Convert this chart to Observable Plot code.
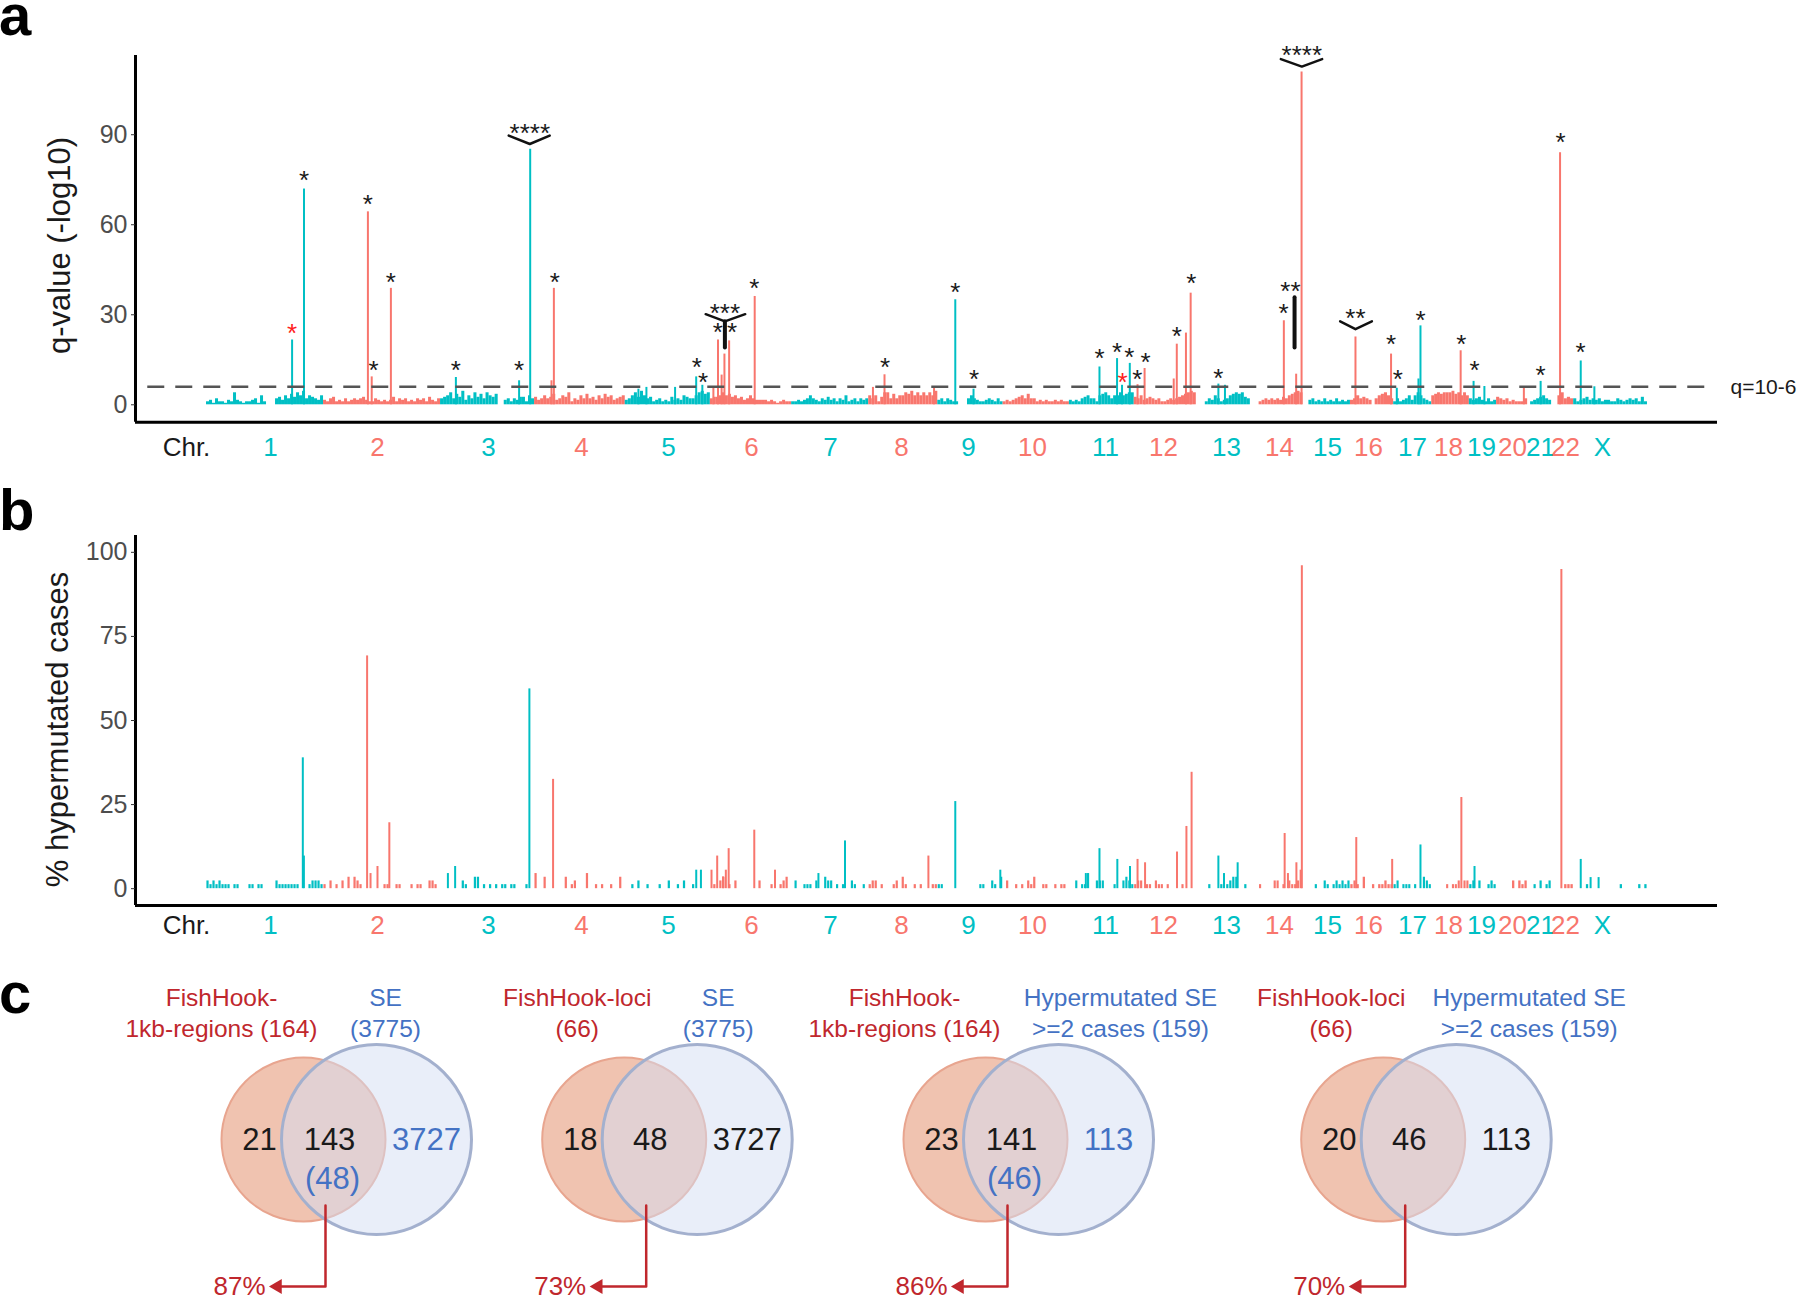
<!DOCTYPE html>
<html><head><meta charset="utf-8">
<script src="https://cdn.jsdelivr.net/npm/d3@7"></script>
<script src="https://cdn.jsdelivr.net/npm/@observablehq/plot@0.6"></script>
<style>
body{margin:0;background:#fff;}
#fig{position:relative;width:1800px;height:1303px;overflow:hidden;background:#fff;font-family:"Liberation Sans",Arial,Helvetica,sans-serif;}
#fig > svg{position:absolute;left:0;}
</style></head>
<body><div id="fig"></div>
<script>
// ---------------- DATA ----------------
const chrNames = ["1","2","3","4","5","6","7","8","9","10","11","12","13","14","15","16","17","18","19","20","21","22","X"];
// chromosome boundaries on the cumulative genome axis (Mb)
const chrStart = [0,249,498,698,891,1072,1245,1409,1556,1695,1836,1974,2106,2221,2333,2434,2526,2607,2687,2745,2811,2862,2909];
const chrEnd   = [249,498,698,891,1072,1245,1409,1556,1695,1836,1974,2106,2221,2333,2434,2526,2607,2687,2745,2811,2862,2909,3066];
// chromosome tick-label positions (Mb)
const chrLabelPos = [136.2,363.8,600,797.9,983,1159.6,1327.7,1478.7,1621.3,1757.4,1912.8,2036.2,2170.2,2283,2385,2472.3,2565.9,2642.6,2712.8,2778.7,2838.3,2891.5,2970.2];

// panel a: background q-values per chromosome, one character per bin, digit = half -log10 units (' ' = no bin)
const qBackground = [
  "23142213283212234162   4536475869465436",
  "324523242343453224323235243423243425324",
  "4568475936485748657  3424355264",
  "534645734658243647453647563456",
  "3468596452342325343654468978",
  "455686756453464333323212322",
  "22323464324353424362342434",
  "64625884746687968686869",
  "3424322   464322343242",
  "2323456474423232232322",
  "3232456442678646686788",
  "546345434223434567898",
  "   243642346787854",
  "   234343435467898",
  "  34232423242323",
  "3464543 467864",
  "2423463686432",
  "6787888978686",
  "434532423",
  "5434232224",
  " 2345643",
  "  68454",
  "423453434233224323434252"
];
// panel a: individual regions [position Mb, q-value (-log10)]
const qPeaks = [
  [182.1,21.6],[207.4,71.9],
  [343.4,64.3],[351.5,9.3],[392.3,38.8],
  [530.6,9.1],[665.1,8.0],[688.7,85.2],
  [734,8.0],[739.1,38.8],
  [919,5.2],[936,5.8],[997,5.8],[1041.9,9.3],[1055,6.5],
  [1078.5,5.8],[1088.3,21.6],[1096,9.9],[1102,16.9],[1112,21.3],[1166.4,36.1],
  [1418,5.8],[1442.6,10.0],[1548,5.8],
  [1593.2,35.0],[1632,5.2],
  [1900,12.6],[1937.4,15.4],[1948,6.5],[1964.5,13.8],
  [1981,6.7],[1996,12.1],[2058,8.6],[2064.5,20.2],[2084,23.9],[2094,37.2],
  [2153,6.9],[2167,6.5],
  [2292.3,28.0],[2318.5,10.2],[2330,110.9],
  [2444.7,22.6],[2520.4,16.9],
  [2532.6,5.5],[2578.7,8.6],[2583,26.3],
  [2668.5,18.0],
  [2696,7.8],[2719,6.1],
  [2803,6.0],
  [2838.7,7.8],
  [2880,84.0],
  [2924,14.6],[2953,6.0]
];
const qThreshold = 6; // q = 10^-6
// significance marks [position Mb, q-value, text, red?]
const qStars = [
  [182.1,25.8,"*",1],[207.4,76.8,"*",0],
  [343.4,69,"*",0],[355.5,13.5,"*",0],[392.3,43,"*",0],
  [530.6,13.5,"*",0],[665.1,13.5,"*",0],[687.8,92.6,"****",0],
  [740.9,43,"*",0],
  [1043.4,14.6,"*",0],[1056.6,9.7,"*",0],
  [1103,32.6,"***",0],[1088,26.3,"*",0],[1118,26.3,"*",0],[1165.5,40.7,"*",0],
  [1444,14.6,"*",0],
  [1593.2,39.6,"*",0],[1633,10.4,"*",0],
  [1900,17.4,"*",0],[1937.4,19.6,"*",0],[1963.6,18,"*",0],[1949,9.7,"*",1],
  [1980.6,10.4,"*",0],[1998,16.3,"*",0],[2064.5,24.9,"*",0],[2095.5,42.4,"*",0],
  [2153,10.8,"*",0],
  [2330.6,118.5,"****",0],[2306.4,40,"**",0],[2291.5,32.6,"*",0],
  [2444.7,30.7,"**",0],[2520.4,22.2,"*",0],
  [2535,10.4,"*",0],[2583,30.2,"*",0],
  [2670,22.2,"*",0],
  [2698,13.5,"*",0],
  [2838.7,11.9,"*",0],
  [2880.9,89.6,"*",0],
  [2923.4,19.6,"*",0]
];
// grouping brackets and stems [id, [[position, q], ...]]
const qBrackets = [
  ["chr3",  [[643,89.7],[687.9,86.9],[730.2,89.7]]],
  ["chr6",  [[1062.1,30.2],[1103,27.8],[1146.2,30.2]]],
  ["chr14", [[2285.9,115.2],[2330.6,112.7],[2373.8,115.2]]],
  ["chr16", [[2412.1,27.8],[2444.7,25.2],[2479.6,27.8]]]
];
const qStems = [
  ["chr6",  [[1103,27.8],[1103,19.1]]],
  ["chr14", [[2315.1,35.8],[2315.1,19.1]]]
];

// panel b: background, one character per bin = number of hypermutated cases (level index)
const caseLevels = [0,1.2,2.3,3.4,4.5]; // % of cases for 0..4 cases
const hyperBackground = [
  "21212111 11   11 11    21111111   12221",
  "1 2 1 2 3 321       11  11   1 11  221 ",
  "       21  33 1 1 1 11 11   1  ",
  "4  3      3 12   4  1 1  1  3 ",
  "  1 2  1   1  2  1 2  1     ",
  " 1 23 1 2       2   1  123 ",
  " 2  111 2  322 1 1  21  1 ",
  "122 1   12 31  1 1   11",
  "11            11  21 3",
  " 2  1 1 213  11  1 11 ",
  "  2 114  222   1  2321",
  "122 11 211 1    1    ",
  "    1   1 1233  1 ",
  "   1    22 1 2112 ",
  "    1  21 121212",
  "121 3  1 11211",
  "12 111 1  321",
  "     1 112 22",
  "12 2  121",
  "     2 212",
  "  1 2 12",
  "    111",
  "    1          1     1 1"
];
// panel b: individual regions [position Mb, % hypermutated cases]
const hyperPeaks = [
  [204.9,38.9],[207.2,9.7],
  [341.7,69.2],[349,4.5],[363.8,6.6],[389,19.6],
  [513.6,4.5],[529,6.6],[687,59.4],
  [737.4,32.5],
  [1042,5.5],[1052,5.5],
  [1074.5,5.5],[1086.6,9.7],[1099,3.5],[1105,5.5],[1111,11.9],[1165.5,17.4],[1209.6,5.5],
  [1302,4.5],[1358.5,14.2],
  [1536,9.7],
  [1593.2,25.9],
  [1689,5.5],
  [1871,4.5],[1900,11.9],[1938,8.7],[1965,6.6],
  [1981,8.7],[1997,7.7],[2065,10.9],[2085,18.5],[2096,34.6],
  [2153,9.7],[2165,4.5],[2194,7.7],
  [2294,16.4],[2301,4.5],[2319,7.7],[2328,5.5],[2330.6,96],
  [2446.4,15.2],[2522.8,8.7],
  [2583,13],
  [2670,27.1],
  [2698,6.6],
  [2882.8,94.9],
  [2924,8.7],[2945,3.3],[2962,3.3]
];

// panel c: Venn overlaps
const vennLeftLabel  = ["FishHook-\n1kb-regions (164)","FishHook-loci\n(66)","FishHook-\n1kb-regions (164)","FishHook-loci\n(66)"];
const vennRightLabel = ["SE\n(3775)","SE\n(3775)","Hypermutated SE\n>=2 cases (159)","Hypermutated SE\n>=2 cases (159)"];
const vennLeftOnly   = [21,18,23,20];
const vennBoth       = [143,48,141,46];
const vennRightOnly  = [3727,3727,113,113];
const vennBothInRight= [48,null,46,null];
const vennPercent    = ["87%","73%","86%","70%"];

// ---------------- STYLE / LAYOUT ----------------
const FONT = '"Liberation Sans", Arial, Helvetica, sans-serif';
const TEAL = "#00BFC4", RED = "#F8766D";
const TXT = "#1a1a1a", TICK = "#4d4d4d";
const RED_T = "#C0272D", BLUE_T = "#4472C4";
const xDomain = [-151.1, 3215];

const chrColor = i => (i % 2 === 0 ? TEAL : RED);
const chrIndex = pos => { for (let i = 0; i < chrEnd.length; i++) if (pos < chrEnd[i]) return i; return chrEnd.length - 1; };
const chrLabels = chrNames.map((n, i) => ({name: n, pos: chrLabelPos[i], c: chrColor(i)}));

function bins(strings, decode) {
  const out = [];
  strings.forEach((s, i) => {
    const a = chrStart[i], w = (chrEnd[i] - a) / s.length;
    for (let k = 0; k < s.length; k++) {
      if (s[k] === " ") continue;
      out.push({x1: a + k * w, x2: a + (k + 1) * w, v: decode(s[k]), c: chrColor(i)});
    }
  });
  return out;
}
const flatPts = list => list.flatMap(([id, pts]) => pts.map(([x, y]) => ({id, x, y})));

const fig = document.getElementById("fig");
function place(el, top) { el.style.top = top + "px"; fig.appendChild(el); }

// ---------------- PANEL A ----------------
const plotA = Plot.plot({
  width: 1800, height: 470,
  marginLeft: 135, marginRight: 83, marginTop: 55, marginBottom: 48.3,
  style: {fontFamily: FONT, background: "transparent", overflow: "visible"},
  x: {domain: xDomain, axis: null},
  y: {domain: [-5.8, 116.4]},
  color: {type: "identity"},
  marks: [
    Plot.rect(bins(qBackground, c => +c / 2), {x1: "x1", x2: "x2", y1: 0, y2: "v", fill: "c"}),
    Plot.ruleX(qPeaks, {x: d => d[0], y1: 0, y2: d => d[1], stroke: d => chrColor(chrIndex(d[0])), strokeWidth: 2}),
    Plot.ruleY([qThreshold], {x1: -125, x2: 3204, stroke: "#555", strokeWidth: 2.5, strokeDasharray: "17,11"}),
    Plot.text(["q=10-6"], {x: xDomain[1], y: qThreshold, text: d => d, dx: 13, textAnchor: "start", fontSize: 21, fill: TXT}),
    Plot.line(flatPts(qBrackets), {x: "x", y: "y", z: "id", stroke: "#111", strokeWidth: 2.5}),
    Plot.line(flatPts(qStems), {x: "x", y: "y", z: "id", stroke: "#111", strokeWidth: 4}),
    Plot.text(qStars, {x: d => d[0], y: d => d[1], text: d => d[2], fill: d => (d[3] ? "#FF2020" : TXT), fontSize: 26, dy: 6.5}),
    Plot.ruleX([xDomain[0]], {stroke: "#000", strokeWidth: 3}),
    Plot.ruleY([-5.8], {stroke: "#000", strokeWidth: 3}),
    Plot.axisY({ticks: [0, 30, 60, 90], tickSize: 4, tickPadding: 4, fontSize: 25, fill: TICK, stroke: "#333", label: null}),
    Plot.text(["q-value (-log10)"], {frameAnchor: "left", textAnchor: "middle", lineAnchor: "middle", dx: -75.7, dy: 6.6, rotate: -90, text: d => d, fontSize: 31, fill: TXT}),
    Plot.text(chrLabels, {x: "pos", text: "name", fill: "c", frameAnchor: "bottom", lineAnchor: "middle", dy: 25, fontSize: 26}),
    Plot.text(["Chr."], {x: -42.6, text: d => d, frameAnchor: "bottom", lineAnchor: "middle", dy: 25, fontSize: 26, fill: TXT})
  ]
});
place(plotA, 0);

// ---------------- PANEL B ----------------
const plotB = Plot.plot({
  width: 1800, height: 480,
  marginLeft: 135, marginRight: 83, marginTop: 65, marginBottom: 45,
  style: {fontFamily: FONT, background: "transparent", overflow: "visible"},
  x: {domain: xDomain, axis: null},
  y: {domain: [-5, 105]},
  color: {type: "identity"},
  marks: [
    Plot.rect(bins(hyperBackground, c => caseLevels[+c]), {x1: "x1", x2: "x2", y1: 0, y2: "v", fill: "c", insetLeft: 0.4, insetRight: 0.4}),
    Plot.ruleX(hyperPeaks, {x: d => d[0], y1: 0, y2: d => d[1], stroke: d => chrColor(chrIndex(d[0])), strokeWidth: 2}),
    Plot.ruleX([xDomain[0]], {stroke: "#000", strokeWidth: 3}),
    Plot.ruleY([-5], {stroke: "#000", strokeWidth: 3}),
    Plot.axisY({ticks: [0, 25, 50, 75, 100], tickSize: 4, tickPadding: 4, fontSize: 25, fill: TICK, stroke: "#333", label: null}),
    Plot.text(["% hypermutated cases"], {frameAnchor: "left", textAnchor: "middle", lineAnchor: "middle", dx: -77.6, dy: 9, rotate: -90, text: d => d, fontSize: 31, fill: TXT}),
    Plot.text(chrLabels, {x: "pos", text: "name", fill: "c", frameAnchor: "bottom", lineAnchor: "middle", dy: 20, fontSize: 26}),
    Plot.text(["Chr."], {x: -42.6, text: d => d, frameAnchor: "bottom", lineAnchor: "middle", dy: 20, fontSize: 26, fill: TXT})
  ]
});
place(plotB, 470);

// ---------------- PANEL C ----------------
const vennX = [303, 623.7, 985, 1382.7];      // centre of left circle (px)
const leftTitleDx = [-82, -47, -81, -52];
const rightTitleDx = [82, 94, 135, 146];
const idx = [0, 1, 2, 3];
const cy = 1139, titleY = 1010.8, numY = 1140, parenY = 1179, arrowTop = 1205, arrowY = 1286;
const arrowPts = idx.flatMap(i => [
  {i, x: vennX[i] + 22, y: arrowTop}, {i, x: vennX[i] + 22, y: arrowY}, {i, x: vennX[i] - 22, y: arrowY}
]);
const plotC = Plot.plot({
  width: 1800, height: 353, margin: 0,
  style: {fontFamily: FONT, background: "transparent", overflow: "visible"},
  x: {domain: [0, 1800], range: [0, 1800], axis: null},
  y: {domain: [950, 1303], range: [0, 353], axis: null},
  color: {type: "identity"},
  marks: [
    Plot.dot(idx, {x: i => vennX[i], y: cy, r: 82, fill: "#F0C3B0", stroke: "#E8A58F", strokeWidth: 2}),
    Plot.dot(idx, {x: i => vennX[i] + 73, y: cy, r: 95, fill: "#D3DEF4", fillOpacity: 0.5, stroke: "#A3B0CE", strokeWidth: 3}),
    Plot.text(idx, {x: i => vennX[i] + leftTitleDx[i], y: titleY, text: i => vennLeftLabel[i], fill: RED_T, fontSize: 24.5, lineHeight: 1.3}),
    Plot.text(idx, {x: i => vennX[i] + rightTitleDx[i], y: titleY, text: i => vennRightLabel[i], fill: BLUE_T, fontSize: 24.5, lineHeight: 1.3}),
    Plot.text(idx, {x: i => vennX[i] - 44, y: numY, text: i => String(vennLeftOnly[i]), fill: TXT, fontSize: 31}),
    Plot.text(idx, {x: i => vennX[i] + 26, y: numY, text: i => String(vennBoth[i]), fill: TXT, fontSize: 31}),
    Plot.text(idx, {x: i => vennX[i] + 123, y: numY, text: i => String(vennRightOnly[i]), fill: i => (vennBothInRight[i] != null ? BLUE_T : TXT), fontSize: 31}),
    Plot.text(idx.filter(i => vennBothInRight[i] != null), {x: i => vennX[i] + 29, y: parenY, text: i => `(${vennBothInRight[i]})`, fill: BLUE_T, fontSize: 31}),
    Plot.line(arrowPts, {x: "x", y: "y", z: "i", stroke: RED_T, strokeWidth: 2.5}),
    Plot.dot(idx, {x: i => vennX[i] - 26, y: arrowY, symbol: "triangle", r: 5.5, rotate: -90, fill: RED_T}),
    Plot.text(idx, {x: i => vennX[i] - 64, y: arrowY, text: i => vennPercent[i], fill: RED_T, fontSize: 26})
  ]
});
place(plotC, 950);

// ---------------- PANEL LETTERS ----------------
const letters = d3.select(fig).append("svg").attr("width", 1800).attr("height", 1303).style("top", "0px").style("pointer-events", "none");
letters.selectAll("text").data([["a", 35], ["b", 530], ["c", 1013]]).join("text")
  .attr("x", -1).attr("y", d => d[1]).text(d => d[0])
  .attr("font-family", FONT).attr("font-weight", "bold").attr("font-size", 58).attr("fill", "#000");
</script>
</body></html>
